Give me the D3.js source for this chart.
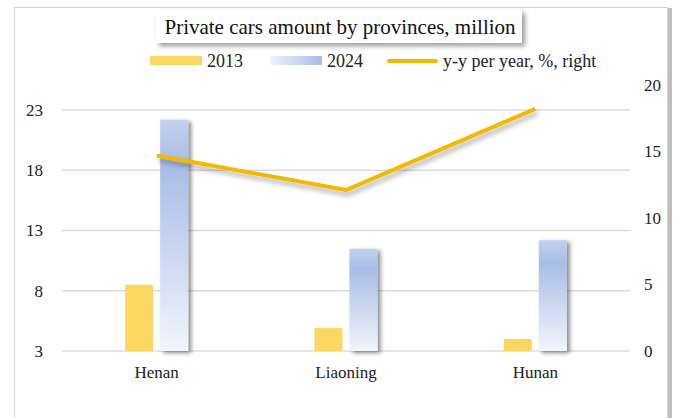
<!DOCTYPE html>
<html><head><meta charset="utf-8">
<script src="https://cdn.jsdelivr.net/npm/d3@7"></script>
<style>body{margin:0;background:#fff}svg{display:block;font-family:"Liberation Serif","Times New Roman",serif}</style>
</head><body><svg id="c" width="678" height="418"></svg>
<script>
const categories = ["Henan","Liaoning","Hunan"];
const values2013 = [8.5, 4.9, 4.0];
const values2024 = [22.2, 11.5, 12.2];
const yoy = [14.7, 12.1, 18.2];
const leftTicks = [3,8,13,18,23];
const rightTicks = [0,5,10,15,20];
const seriesNames = ["2013","2024","y-y per year, %, right"];

const svg = d3.select("#c");
const defs = svg.append("defs");
const g1 = defs.append("linearGradient").attr("id","blueGrad").attr("x1",0).attr("y1",0).attr("x2",0).attr("y2",1);
g1.append("stop").attr("offset","0%").attr("stop-color","#c3d1ee");
g1.append("stop").attr("offset","20%").attr("stop-color","#a8bde6");
g1.append("stop").attr("offset","100%").attr("stop-color","#f2f5fc");
const g2 = defs.append("linearGradient").attr("id","blueGradH").attr("x1",0).attr("y1",0).attr("x2",1).attr("y2",0);
g2.append("stop").attr("offset","0%").attr("stop-color","#eef2fa");
g2.append("stop").attr("offset","100%").attr("stop-color","#a8bde6");
const f = defs.append("filter").attr("id","sh").attr("x","-50%").attr("y","-50%").attr("width","200%").attr("height","200%");
f.append("feDropShadow").attr("dx",3).attr("dy",2).attr("stdDeviation",2).attr("flood-color","#000").attr("flood-opacity",0.45);
const fl = defs.append("filter").attr("id","shl").attr("x","-10%").attr("y","-50%").attr("width","120%").attr("height","200%");
fl.append("feDropShadow").attr("dx",2).attr("dy",4).attr("stdDeviation",2.5).attr("flood-color","#000").attr("flood-opacity",0.3);
const ft = defs.append("filter").attr("id","sht").attr("x","-20%").attr("y","-50%").attr("width","140%").attr("height","200%");
ft.append("feDropShadow").attr("dx",3).attr("dy",3).attr("stdDeviation",2.5).attr("flood-color","#000").attr("flood-opacity",0.4);

// outer frame
svg.append("rect").attr("x",668).attr("y",8).attr("width",4).attr("height",420).attr("fill","#bdbdbd");
svg.append("rect").attr("x",14.5).attr("y",7.5).attr("width",653).attr("height",420).attr("fill","#fff").attr("stroke","#d4d4d4").attr("stroke-width",1);

const x = d3.scaleBand().domain(categories).range([62,630]);
const yL = d3.scaleLinear().domain([3,25]).range([351,86]);
const yR = d3.scaleLinear().domain([0,20]).range([351,85]);

// gridlines
svg.append("g").selectAll("line").data(leftTicks).join("line")
  .attr("x1",62).attr("x2",630).attr("y1",d=>yL(d)).attr("y2",d=>yL(d))
  .attr("stroke","#dcdcdc").attr("stroke-width",1.5);

// axes
const axL = svg.append("g").attr("transform","translate(43,0)")
  .call(d3.axisLeft(yL).tickValues(leftTicks).tickSize(0).tickPadding(0));
const axR = svg.append("g").attr("transform","translate(644,0)")
  .call(d3.axisRight(yR).tickValues(rightTicks).tickSize(0).tickPadding(0));
const axB = svg.append("g").attr("transform","translate(0,358)")
  .call(d3.axisBottom(x).tickSize(0).tickPadding(8));
[axL,axR,axB].forEach(a=>{a.attr("font-family",null);a.select(".domain").remove();a.selectAll("text").attr("font-family","Liberation Serif").attr("font-size",17).attr("fill","#222");});

const bw = 28, gap = 7;
const gBars = svg.append("g");
gBars.selectAll("rect.a").data(categories).join("rect").attr("class","a")
  .attr("x",d=>x(d)+x.bandwidth()/2-gap/2-bw)
  .attr("y",(d,i)=>yL(values2013[i])).attr("width",bw)
  .attr("height",(d,i)=>yL(3)-yL(values2013[i])).attr("fill","#fcd663");
gBars.selectAll("rect.b").data(categories).join("rect").attr("class","b")
  .attr("x",d=>x(d)+x.bandwidth()/2+gap/2)
  .attr("y",(d,i)=>yL(values2024[i])).attr("width",bw)
  .attr("height",(d,i)=>yL(3)-yL(values2024[i])).attr("fill","url(#blueGrad)").attr("filter","url(#sh)");

// line
const line = d3.line().x((d,i)=>x(categories[i])+x.bandwidth()/2).y(d=>yR(d));
svg.append("path").datum(yoy).attr("d",line).attr("fill","none")
  .attr("stroke","#f2b900").attr("stroke-width",4).attr("stroke-linejoin","round").attr("filter","url(#shl)");

// title
svg.append("rect").attr("x",156).attr("y",10).attr("width",366).attr("height",33).attr("fill","#fff").attr("filter","url(#sht)");
svg.append("text").attr("x",340).attr("y",34).attr("text-anchor","middle").attr("font-size",21).attr("fill","#111").text("Private cars amount by provinces, million");

// legend
const lg = svg.append("g").attr("font-size",18).attr("fill","#222");
lg.append("rect").attr("x",150).attr("y",56).attr("width",52).attr("height",9).attr("fill","#fcd663");
lg.append("text").attr("x",207).attr("y",67).text(seriesNames[0]);
lg.append("rect").attr("x",270).attr("y",56).attr("width",52).attr("height",9).attr("fill","url(#blueGradH)");
lg.append("text").attr("x",327).attr("y",67).text(seriesNames[1]);
lg.append("line").attr("x1",389).attr("x2",436).attr("y1",61).attr("y2",61).attr("stroke","#f2b900").attr("stroke-width",4).attr("stroke-linecap","round");
lg.append("text").attr("x",443).attr("y",67).text(seriesNames[2]);
</script></body></html>
